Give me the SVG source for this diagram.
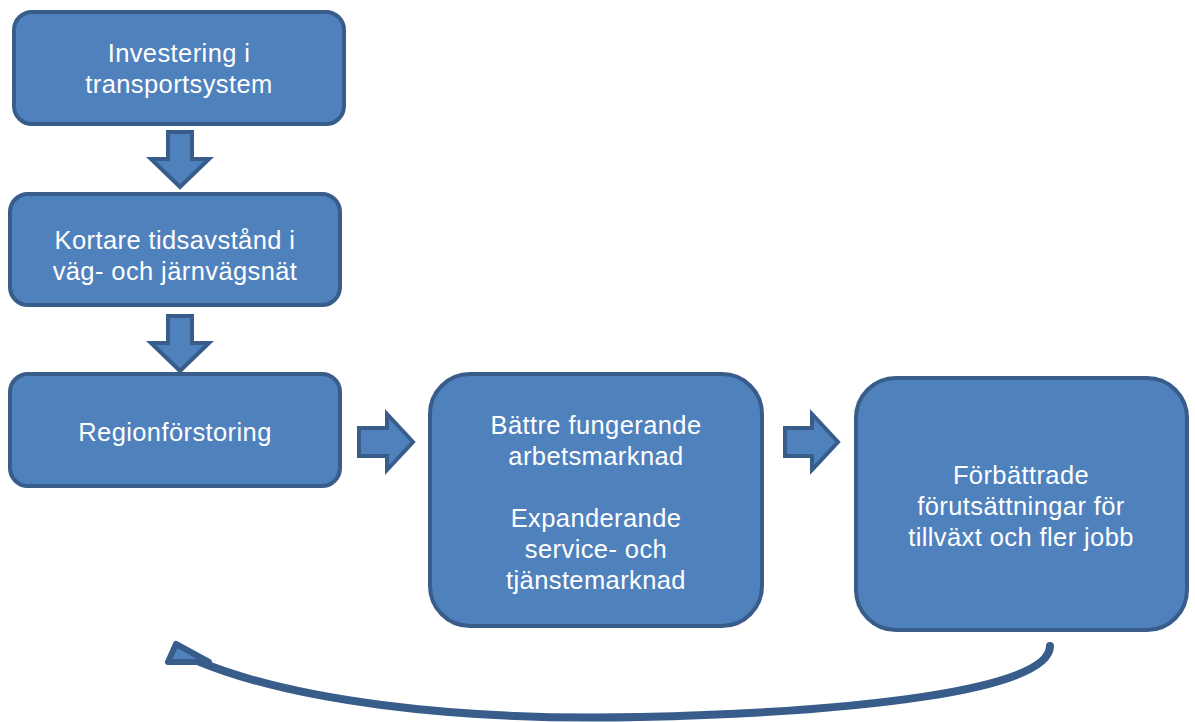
<svg xmlns="http://www.w3.org/2000/svg" width="1195" height="722" viewBox="0 0 1195 722">
<style>
.box{fill:#4F81BD;stroke:#385D8A;stroke-width:4}
.arr{fill:#4F81BD;stroke:#385D8A;stroke-width:4;stroke-linejoin:miter}
.t{font-family:"Liberation Sans",Arial,sans-serif;font-size:25.5px;letter-spacing:0.4px;fill:#ffffff;text-anchor:middle}
</style>
<rect width="1195" height="722" fill="#ffffff"/>
<g id="node-investering">
<rect class="box" x="14" y="12" width="330" height="112" rx="18"/>
<text class="t" x="179" y="62">Investering i</text>
<text class="t" x="179" y="93">transportsystem</text>
</g>
<g id="node-kortare">
<rect class="box" x="10" y="194" width="330" height="111" rx="18"/>
<text class="t" x="175" y="249">Kortare tidsavstånd i</text>
<text class="t" x="175" y="280">väg- och järnvägsnät</text>
</g>
<g id="node-region">
<rect class="box" x="10" y="374" width="330" height="112" rx="18"/>
<text class="t" x="175" y="441">Regionförstoring</text>
</g>
<g id="node-battre">
<rect class="box" x="430" y="374" width="332" height="252" rx="40"/>
<text class="t" x="596" y="434">Bättre fungerande</text>
<text class="t" x="596" y="465">arbetsmarknad</text>
<text class="t" x="596" y="527">Expanderande</text>
<text class="t" x="596" y="558">service- och</text>
<text class="t" x="596" y="589">tjänstemarknad</text>
</g>
<g id="node-forbattrade">
<rect class="box" x="856" y="378" width="331" height="252" rx="40"/>
<text class="t" x="1021" y="484">Förbättrade</text>
<text class="t" x="1021" y="515">förutsättningar för</text>
<text class="t" x="1021" y="546">tillväxt och fler jobb</text>
</g>
<g id="connectors">
<polygon class="arr" points="168,132 192,132 192,159 209,159 180,187 151,159 168,159"/>
<polygon class="arr" points="168,316 192,316 192,343 209,343 180,371 151,343 168,343"/>
<polygon class="arr" points="359,428 387,428 387,414 413,442 387,470 387,456 359,456"/>
<polygon class="arr" points="785,428 812,428 812,414 838,442 812,470 812,456 785,456"/>
<path d="M1050,646 C1050,690 860,712 640,717 C450,721 290,700 195,660" fill="none" stroke="#385D8A" stroke-width="8" stroke-linecap="round"/>
<polygon points="176,644 168,662 209,662" fill="#4F81BD" stroke="#385D8A" stroke-width="6" stroke-linejoin="round"/>
</g>
</svg>
